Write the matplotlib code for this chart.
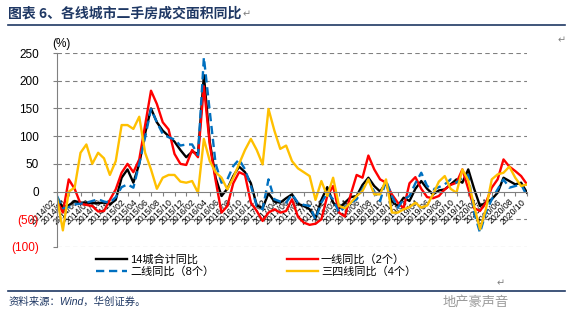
import matplotlib
matplotlib.use("Agg")
import matplotlib.pyplot as plt
import numpy as np

plt.rcParams['font.family'] = ['Liberation Sans', 'Noto Sans CJK SC', 'DejaVu Sans']

# monthly, 2014/02 .. 2020/10
months = []
for y in range(2014, 2021):
    for m in range(1, 13):
        if (y == 2014 and m < 2) or (y == 2020 and m > 10):
            continue
        months.append("%d/%02d" % (y, m))

city14 = [-15, -28, -25, -17, -20, -20, -21, -21, -20, -23,
          -15, 25, 40, 16, 50, 105, 150, 125, 110, 100,
          90, 75, 62, 72, 68, 210, 90, 25, -8, 5,
          28, 45, 35, 15, -25, -30, -3, -18, -20, -12,
          -5, -22, -26, -32, -48, -15, 8, -20, -30, -20,
          -10, -8, 12, 25, 10, 0, 16, -18, -26, -11,
          -17, 5, 19, 5, -5, 2, 4, 13, 22, 16,
          40, 5, -26, -20, -14, -2, 25, 19, 13, 16, -2]

tier1 = [-17, -38, 22, 5, -22, -24, -26, -36, -35, -15,
         4, 34, 50, 35, 58, 120, 182, 158, 125, 112,
         68, 50, 48, 75, 62, 190, 85, 20, -38, -26,
         15, 35, 30, -20, -35, -53, -38, -32, -38, -35,
         -14, -45, -56, -60, -58, -50, -8, 10, -38, -45,
         -5, 30, 25, 65, 40, 22, 16, -5, -20, -30,
         15, 26, 5, -10, -12, -8, 4, 12, 16, 40,
         5, -30, -35, -20, 7, 22, 58, 45, 37, 28, 13]

tier2 = [-8, -30, -28, -23, -22, -20, -17, -14, -18, -20,
         -10, 8, 13, 7, 50, 98, 149, 125, 104, 98,
         94, 83, 85, 85, 66, 242, 145, 50, 16, 22,
         46, 58, 40, 10, -26, -32, 22, -14, -18, -20,
         -5, -20, -24, -26, -50, -20, -2, -14, -38, -28,
         -20, -14, 5, 22, 0, -17, 20, -8, -29, -14,
         -8, 15, 34, 10, 4, 8, 13, 22, 16, 25,
         30, -38, -74, -38, -14, 4, 22, 7, 10, 13, -8]

tier34 = [-11, -70, 0, 7, 70, 85, 50, 70, 60, 30,
          55, 120, 120, 113, 135, 70, 40, 5, 25, 30,
          30, 18, 16, 19, -2, 95, 55, 35, 25, 4,
          25, 50, 75, 95, 75, 49, 149, 110, 77, 83,
          55, 42, 35, 28, -15, 19, -8, 25, -26, -30,
          -20, -8, 1, 22, -5, -5, 22, -38, -38, -32,
          -28, -20, -29, -25, -5, 18, 28, 5, -2, 40,
          20, -26, -68, -32, 22, 31, 34, 45, 25, 10, 13]

yticks = [250, 200, 150, 100, 50, 0, -50, -100]

x = np.arange(len(months))

fig = plt.figure(figsize=(5.77, 3.30), dpi=100)
fig.patch.set_facecolor('white')
ax = fig.add_axes([57/577, 83/330, 470/577, 194/330])

gray = '#808080'
for v in yticks:
    if v != 0:
        ax.axhline(v, color=gray, lw=0.8, ls=(0, (4, 3)), zorder=0)

l1, = ax.plot(x, city14, color='black', lw=1.7, label='14城合计同比')
l2, = ax.plot(x, tier1, color='#FF0000', lw=1.7, label='一线同比（2个）')
l3, = ax.plot(x, tier2, color='#0070C0', lw=1.7, ls=(0, (3.5, 2)), label='二线同比（8个）')
l4, = ax.plot(x, tier34, color='#FFC000', lw=1.7, label='三四线同比（4个）')

ax.set_xlim(0, len(months) - 1)
ax.set_ylim(-100, 250)
ax.spines['top'].set_visible(False)
ax.spines['right'].set_visible(False)
ax.spines['bottom'].set_position(('data', 0))
ax.spines['bottom'].set_color(gray)
ax.spines['left'].set_color(gray)

ax.set_xticks(x[::2])
ax.set_xticklabels(months[::2], rotation=45, ha='right', va='top', fontsize=6.3)
ax.tick_params(axis='x', length=3, color=gray, pad=1)

ax.set_yticks(yticks)
ylabels = [str(v) if v >= 0 else "(%d)" % (-v) for v in yticks]
ax.set_yticklabels(ylabels, fontsize=8.5)
for t, v in zip(ax.get_yticklabels(), yticks):
    if v < 0:
        t.set_color('#FF0000')
ax.tick_params(axis='y', length=3, color=gray, pad=10)

fig.text(52/577, 1 - 44/330, '(%)', fontsize=8.5, va='center', ha='left')

# legend, two columns
kw = dict(frameon=False, fontsize=8, handlelength=2.8, handletextpad=0.25,
          labelspacing=0.12, borderpad=0, borderaxespad=0, loc='upper left')
lg1 = fig.legend([l1, l3], ['14城合计同比', '二线同比（8个）'],
                 bbox_to_anchor=(96/577, 1 - 254/330), **kw)
lg2 = fig.legend([l2, l4], ['一线同比（2个）', '三四线同比（4个）'],
                 bbox_to_anchor=(287/577, 1 - 254/330), **kw)

# title and frame lines
navy = '#1F3864'
fig.text(8/577, 1 - 14/330, '图表 6、各线城市二手房成交面积同比', fontsize=10,
         fontweight='bold', color=navy, va='center', ha='left',
         family=['Noto Sans CJK SC', 'DejaVu Sans'])
fig.text(243/577, 1 - 14/330, '↵', fontsize=7, color=gray, va='center',
         family=['DejaVu Sans'])
fig.add_artist(plt.Line2D([8/577, 565/577], [1 - 25/330, 1 - 25/330],
                          color=navy, lw=1.2))
fig.add_artist(plt.Line2D([8/577, 565/577], [1 - 291/330, 1 - 291/330],
                          color=navy, lw=1.2))
fig.text(558/577, 1 - 40/330, '↵', fontsize=7, color=gray, va='center',
         family=['DejaVu Sans'])
fig.text(497/577, 1 - 283/330, '↵', fontsize=7, color=gray, va='center',
         family=['DejaVu Sans'])

fig.text(9/577, 1 - 302/330, '资料来源：Wind，华创证券。', fontsize=7.5,
         color=navy, style='italic', va='center', ha='left')
fig.text(443/577, 1 - 302/330, '地产豪声音', fontsize=9.5, color='#9a9a9a',
         va='center', ha='left', family=['Noto Sans CJK SC', 'DejaVu Sans'])

fig.savefig('out.png', dpi=100)
